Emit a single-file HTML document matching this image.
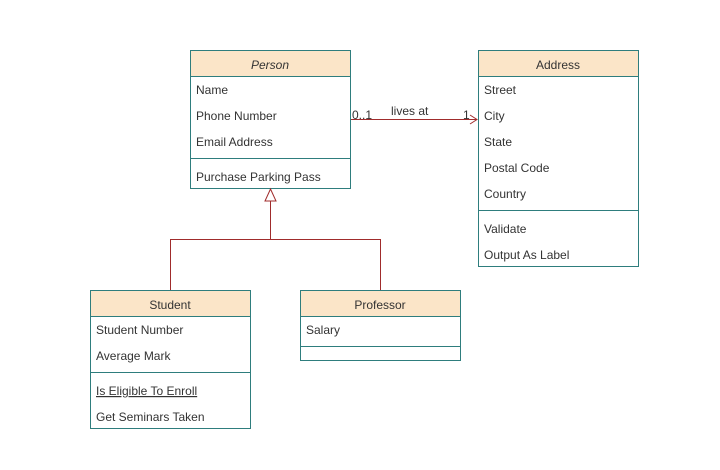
<!DOCTYPE html>
<html><head><style>body{margin:0;background:#fff}svg{display:block}text{font-family:"Liberation Sans",sans-serif;font-size:12px;fill:#333}</style></head><body>
<svg width="720" height="470" xmlns="http://www.w3.org/2000/svg">
<g stroke="#2e7d7d" stroke-width="1">
<rect x="190.5" y="50.5" width="160" height="138" fill="#fff"/>
<rect x="190.5" y="50.5" width="160" height="26" fill="#fbe5c8"/>
<line x1="190" y1="158.5" x2="350" y2="158.5"/>
<rect x="478.5" y="50.5" width="160" height="216" fill="#fff"/>
<rect x="478.5" y="50.5" width="160" height="26" fill="#fbe5c8"/>
<line x1="478" y1="210.5" x2="638" y2="210.5"/>
<rect x="90.5" y="290.5" width="160" height="138" fill="#fff"/>
<rect x="90.5" y="290.5" width="160" height="26" fill="#fbe5c8"/>
<line x1="90" y1="372.5" x2="250" y2="372.5"/>
<rect x="300.5" y="290.5" width="160" height="70" fill="#fff"/>
<rect x="300.5" y="290.5" width="160" height="26" fill="#fbe5c8"/>
<line x1="300" y1="346.5" x2="460" y2="346.5"/>
</g>
<g stroke="#a02c2c" fill="none" stroke-width="1">
<line x1="351" y1="119.5" x2="477" y2="119.5"/>
<polyline points="470,115 477,119.5 470,124"/>
<polygon points="270.5,189 265,201 276,201" fill="#fff"/>
<polyline points="270.5,201 270.5,239.5 170.5,239.5 170.5,290"/>
<polyline points="270.5,239.5 380.5,239.5 380.5,290"/>
</g>
<text x="270" y="69" text-anchor="middle" font-style="italic">Person</text>
<text x="196" y="94">Name</text>
<text x="196" y="120">Phone Number</text>
<text x="196" y="146">Email Address</text>
<text x="196" y="181">Purchase Parking Pass</text>
<text x="558" y="69" text-anchor="middle">Address</text>
<text x="484" y="94">Street</text>
<text x="484" y="120">City</text>
<text x="484" y="146">State</text>
<text x="484" y="172">Postal Code</text>
<text x="484" y="198">Country</text>
<text x="484" y="233">Validate</text>
<text x="484" y="259">Output As Label</text>
<text x="170" y="309" text-anchor="middle">Student</text>
<text x="96" y="334">Student Number</text>
<text x="96" y="360">Average Mark</text>
<text x="96" y="395" text-decoration="underline">Is Eligible To Enroll</text>
<text x="96" y="421">Get Seminars Taken</text>
<text x="380" y="309" text-anchor="middle">Professor</text>
<text x="306" y="334">Salary</text>
<text x="352" y="119">0..1</text>
<text x="391" y="115">lives at</text>
<text x="463" y="119">1</text>
</svg>
</body></html>
